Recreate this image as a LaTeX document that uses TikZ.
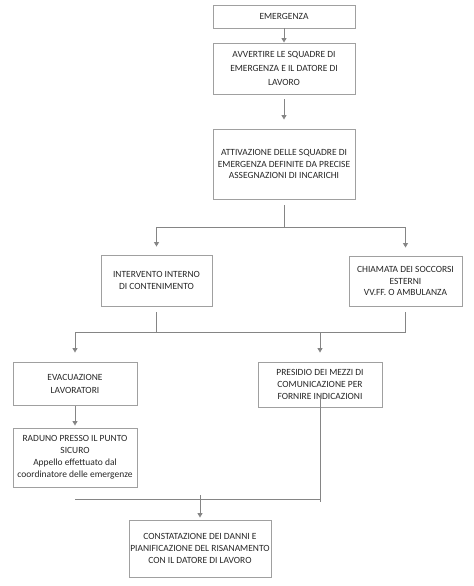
\documentclass[tikz,border=0pt]{standalone}
\usepackage{fontspec}
\setmainfont{Carlito}
\usepackage{xcolor}
\usepackage{tikz}
\usetikzlibrary{arrows.meta, positioning, calc}

\definecolor{boxgray}{HTML}{A0A0A0}
\definecolor{linegray}{HTML}{858585}
\definecolor{textgray}{HTML}{262626}

\begin{document}
\begin{tikzpicture}[x=1bp, y=-1bp,
    box/.style={draw=boxgray, line width=0.9bp, align=center, inner sep=0pt,
                text=textgray, font=\fontsize{9.5}{12}\selectfont},
    link/.style={draw=linegray, line width=0.9bp},
    arr/.style={link, -{Triangle[length=4.5bp, width=5bp]}}]
  \useasboundingbox (0,0) rectangle (474,586);

  % --- Boxes ---
  \node[box, minimum width=142bp, minimum height=23bp] (em)  at (284,16.5) {EMERGENZA};
  \node[box, minimum width=142bp, minimum height=51bp,
        font=\fontsize{9.5}{13.7}\selectfont] (avv) at (284,68.5)
        {AVVERTIRE LE SQUADRE DI\\EMERGENZA E IL DATORE DI\\LAVORO};
  \node[box, minimum width=142bp, minimum height=70bp] (att) at (284,164)
        {ATTIVAZIONE DELLE SQUADRE DI\\EMERGENZA DEFINITE DA PRECISE\\ASSEGNAZIONI DI INCARICHI};
  \node[box, minimum width=111bp, minimum height=51bp] (int) at (156.5,280.5)
        {INTERVENTO INTERNO\\DI CONTENIMENTO};
  \node[box, minimum width=113bp, minimum height=50bp] (chi) at (405.5,281)
        {CHIAMATA DEI SOCCORSI\\ESTERNI\\VV.FF. O AMBULANZA};
  \node[box, minimum width=124bp, minimum height=43bp,
        font=\fontsize{9.5}{13}\selectfont] (eva) at (75,383.5)
        {EVACUAZIONE\\LAVORATORI};
  \node[box, minimum width=124bp, minimum height=45bp] (pre) at (320,384.5)
        {PRESIDIO DEI MEZZI DI\\COMUNICAZIONE PER\\FORNIRE INDICAZIONI};
  \node[box, minimum width=124bp, minimum height=59bp] (rad) at (75,457.5)
        {RADUNO PRESSO IL PUNTO\\SICURO\\Appello effettuato dal\\coordinatore delle emergenze};
  \node[box, minimum width=142bp, minimum height=57bp] (con) at (200,548.5)
        {CONSTATAZIONE DEI DANNI E\\PIANIFICAZIONE DEL RISANAMENTO\\CON IL DATORE DI LAVORO};

  % --- Junction levels ---
  \coordinate (j1) at (284,227);
  \coordinate (j2) at (0,332);
  \coordinate (j3) at (0,499);

  % --- Connectors ---
  \draw[arr] (em) -- (avv);
  \draw[arr] ([yshift=-5bp]avv.south) -- ([yshift=9bp]att.north);
  \draw[link] ([yshift=-6bp]att.south) -- (j1);
  \draw[arr] (j1) -| ([yshift=8bp]int.north);
  \draw[arr] (j1) -| ([yshift=8bp]chi.north);

  \draw[link] ([yshift=-6bp]int.south) -- (int.south |- j2);
  \draw[link] ([yshift=-6bp]chi.south) -- (chi.south |- j2);
  \draw[link] (eva.north |- j2) -- (chi.south |- j2);
  \draw[arr] (eva.north |- j2) -- ([yshift=9bp]eva.north);
  \draw[arr] (pre.north |- j2) -- ([yshift=9bp]pre.north);

  \draw[arr] ([yshift=-1bp]eva.south) -- ([yshift=2bp]rad.north);
  \draw[link] ([yshift=-10bp]pre.center) -- ([yshift=-3bp]pre.center |- j3);
  \draw[link] (rad.south |- j3) -- (pre.center |- j3);
  \draw[arr] ([yshift=4bp]con.north |- j3) -- ([yshift=2bp]con.north);
\end{tikzpicture}
\end{document}
